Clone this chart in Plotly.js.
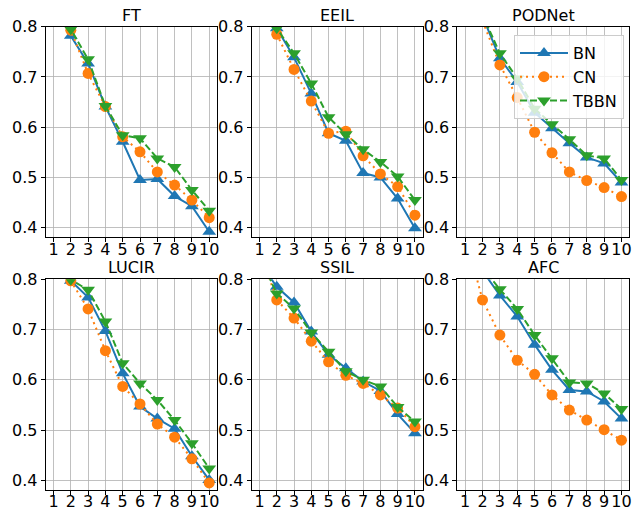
<!DOCTYPE html>
<html>
<head>
<meta charset="utf-8">
<script src="https://cdn.plot.ly/plotly-3.0.1.min.js"></script>
<style>html,body{margin:0;padding:0;background:#fff;}#chart{width:634px;height:515px;}</style>
</head>
<body>
<div id="chart"></div>
<script>
// Tasks (x values)
const steps = [1, 2, 3, 4, 5, 6, 7, 8, 9, 10];
const xTicks = [1, 2, 3, 4, 5, 6, 7, 8, 9, 10];
const yTicks = [0.4, 0.5, 0.6, 0.7, 0.8];
const panelTitles = ["FT", "EEIL", "PODNet", "LUCIR", "SSIL", "AFC"];
const seriesNames = ["BN", "CN", "TBBN"];

// FT
const ftBN   = [0.90, 0.782, 0.727, 0.641, 0.571, 0.495, 0.497, 0.463, 0.443, 0.392];
const ftCN   = [0.90, 0.793, 0.707, 0.641, 0.581, 0.551, 0.511, 0.485, 0.455, 0.420];
const ftTBBN = [0.90, 0.795, 0.735, 0.642, 0.584, 0.578, 0.538, 0.521, 0.475, 0.434];
// EEIL
const eeilBN   = [0.90, 0.797, 0.739, 0.667, 0.588, 0.573, 0.509, 0.500, 0.458, 0.399];
const eeilCN   = [0.90, 0.785, 0.715, 0.652, 0.588, 0.592, 0.543, 0.507, 0.482, 0.425];
const eeilTBBN = [0.90, 0.797, 0.747, 0.687, 0.620, 0.586, 0.556, 0.531, 0.502, 0.455];
// PODNet
const podBN   = [0.90, 0.821, 0.737, 0.690, 0.629, 0.598, 0.568, 0.540, 0.528, 0.490];
const podCN   = [0.90, 0.813, 0.724, 0.659, 0.590, 0.549, 0.511, 0.494, 0.480, 0.462];
const podTBBN = [0.90, 0.822, 0.747, 0.697, 0.637, 0.606, 0.576, 0.544, 0.538, 0.495];
// LUCIR
const lucirBN   = [0.90, 0.797, 0.764, 0.697, 0.613, 0.547, 0.523, 0.503, 0.448, 0.401];
const lucirCN   = [0.90, 0.797, 0.741, 0.658, 0.587, 0.552, 0.512, 0.486, 0.443, 0.395];
const lucirTBBN = [0.90, 0.799, 0.779, 0.716, 0.633, 0.593, 0.560, 0.520, 0.474, 0.424];
// SSIL
const ssilBN   = [0.835, 0.785, 0.754, 0.696, 0.650, 0.623, 0.597, 0.578, 0.532, 0.494];
const ssilCN   = [0.860, 0.759, 0.723, 0.677, 0.636, 0.609, 0.593, 0.570, 0.544, 0.507];
const ssilTBBN = [0.845, 0.772, 0.742, 0.694, 0.656, 0.617, 0.600, 0.587, 0.546, 0.517];
// AFC
const afcBN   = [0.90, 0.817, 0.768, 0.726, 0.670, 0.620, 0.580, 0.577, 0.557, 0.523];
const afcCN   = [0.890, 0.759, 0.689, 0.639, 0.611, 0.570, 0.540, 0.520, 0.501, 0.480];
const afcTBBN = [0.90, 0.823, 0.780, 0.741, 0.689, 0.643, 0.595, 0.593, 0.573, 0.542];

const panels = [
  [ftBN, ftCN, ftTBBN],
  [eeilBN, eeilCN, eeilTBBN],
  [podBN, podCN, podTBBN],
  [lucirBN, lucirCN, lucirTBBN],
  [ssilBN, ssilCN, ssilTBBN],
  [afcBN, afcCN, afcTBBN]
];

const styles = [
  {color: '#1f77b4', dash: 'solid', symbol: 'triangle-up', size: 12},
  {color: '#ff7f0e', dash: '2px,4px', symbol: 'circle', size: 11},
  {color: '#2ca02c', dash: '7px,3px', symbol: 'triangle-down', size: 12}
];

const W = 634, H = 515;
const colPx = [[45.7, 217.0], [251.7, 422.7], [457.3, 629.3]];
const rowPx = [[26.7, 237.3], [279.3, 490.0]];

const FONT = 'DejaVu Sans, sans-serif';
const traces = [];
const layout = {
  width: W, height: H,
  margin: {l: 0, r: 0, t: 0, b: 0},
  paper_bgcolor: '#fff', plot_bgcolor: '#fff',
  font: {family: FONT, size: 15, color: '#000'},
  showlegend: true,
  legend: {
    x: 514 / W, y: 1 - 35 / H, xanchor: 'left', yanchor: 'top',
    bgcolor: 'rgba(255,255,255,0.8)', bordercolor: '#cccccc', borderwidth: 1,
    font: {family: FONT, size: 16, color: '#000'},
    itemwidth: 48,
    tracegroupgap: 0
  },
  annotations: []
};

panels.forEach((p, i) => {
  const r = Math.floor(i / 3), c = i % 3;
  const n = i + 1;
  const xa = n === 1 ? 'x' : 'x' + n;
  const ya = n === 1 ? 'y' : 'y' + n;
  p.forEach((vals, k) => {
    const s = styles[k];
    traces.push({
      x: steps, y: vals, xaxis: xa, yaxis: ya,
      type: 'scatter', mode: 'lines+markers',
      name: seriesNames[k],
      showlegend: i === 2,
      line: {color: s.color, width: 2, dash: s.dash},
      marker: {color: s.color, symbol: s.symbol, size: s.size, line: {width: 0}},
      cliponaxis: true
    });
  });
  const xd = [colPx[c][0] / W, colPx[c][1] / W];
  const yd = [1 - rowPx[r][1] / H, 1 - rowPx[r][0] / H];
  layout['xaxis' + (n === 1 ? '' : n)] = {
    domain: xd, anchor: ya, range: [0.55, 10.45],
    tickvals: xTicks, ticktext: xTicks.map(String),
    showline: true, mirror: true, linecolor: '#000', linewidth: 1,
    ticks: 'outside', ticklen: 4, tickcolor: '#000',
    ticklabelstandoff: -7,
    showgrid: true, gridcolor: '#b0b0b0', gridwidth: 0.8,
    zeroline: false, tickfont: {family: FONT, size: 16, color: '#000'}
  };
  layout['yaxis' + (n === 1 ? '' : n)] = {
    domain: yd, anchor: xa, range: [0.381, 0.8],
    tickvals: yTicks, ticktext: yTicks.map(v => v.toFixed(1)),
    showline: true, mirror: true, linecolor: '#000', linewidth: 1,
    ticks: 'outside', ticklen: 4, tickcolor: '#000',
    showgrid: true, gridcolor: '#b0b0b0', gridwidth: 0.8,
    zeroline: false, tickfont: {family: FONT, size: 16, color: '#000'}
  };
  layout.annotations.push({
    text: panelTitles[i], xref: 'paper', yref: 'paper',
    x: (xd[0] + xd[1]) / 2, y: yd[1],
    xanchor: 'center', yanchor: 'bottom', showarrow: false,
    font: {family: FONT, size: 16, color: '#000'}
  });
});

Plotly.newPlot('chart', traces, layout, {staticPlot: true, displayModeBar: false});
</script>
</body>
</html>
